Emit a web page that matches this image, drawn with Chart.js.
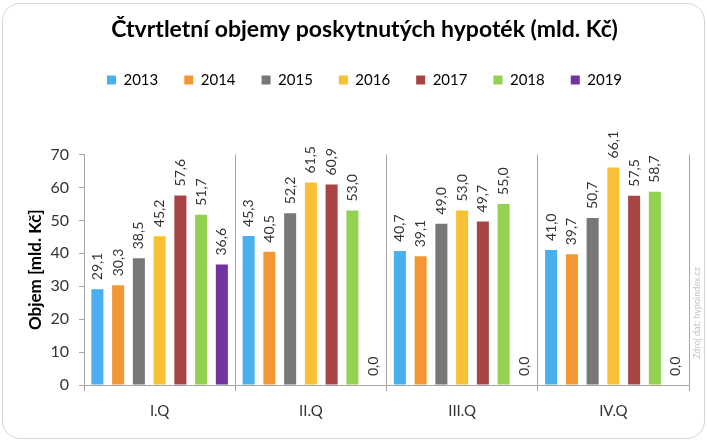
<!DOCTYPE html>
<html>
<head>
<meta charset="utf-8">
<script src="https://cdn.jsdelivr.net/npm/chart.js@4.4.0/dist/chart.umd.min.js"></script>
<style>
  html, body { margin: 0; padding: 0; background: #fff; }
  #wrap { position: relative; width: 707px; height: 445px; }
  #frame { position: absolute; left: 2px; top: 3px; right: 2px; bottom: 6px;
           border: 1px solid #d4d4d4; border-radius: 18px; }
  canvas { position: absolute; left: 0; top: 0; }
</style>
</head>
<body>
<div id="wrap">
  <div id="frame"></div>
  <canvas id="chart" width="707" height="445"></canvas>
</div>
<script>
const quarters = ['I.Q', 'II.Q', 'III.Q', 'IV.Q'];
const years = ['2013', '2014', '2015', '2016', '2017', '2018', '2019'];
const v2013 = [29.1, 45.3, 40.7, 41.0];
const v2014 = [30.3, 40.5, 39.1, 39.7];
const v2015 = [38.5, 52.2, 49.0, 50.7];
const v2016 = [45.2, 61.5, 53.0, 66.1];
const v2017 = [57.6, 60.9, 49.7, 57.5];
const v2018 = [51.7, 53.0, 55.0, 58.7];
const v2019 = [36.6, 0.0, 0.0, 0.0];
const colors = ['#48B0EE', '#F29733', '#787878', '#F7C133', '#A94444', '#93D152', '#7233A0'];

const FONT = 'Lato, "Open Sans", sans-serif';

const datasets = [v2013, v2014, v2015, v2016, v2017, v2018, v2019].map((vals, i) => ({
  label: years[i],
  data: vals,
  backgroundColor: colors[i],
  categoryPercentage: 0.96,
  barPercentage: 0.58
}));

// extra gap below legend
const legendGap = {
  id: 'legendGap',
  beforeInit(chart) {
    const fit = chart.legend.fit;
    chart.legend.fit = function () {
      fit.bind(chart.legend)();
      this.height += 57;
    };
  }
};

// rotated value labels above bars
const valueLabels = {
  id: 'valueLabels',
  afterDatasetsDraw(chart) {
    const ctx = chart.ctx;
    ctx.save();
    ctx.font = '14px ' + FONT;
    ctx.fillStyle = '#333';
    ctx.textAlign = 'left';
    ctx.textBaseline = 'middle';
    chart.data.datasets.forEach((ds, i) => {
      chart.getDatasetMeta(i).data.forEach((bar, j) => {
        const txt = ds.data[j].toFixed(1).replace('.', ',');
        ctx.save();
        ctx.translate(bar.x, bar.y - 9);
        ctx.rotate(-Math.PI / 2);
        ctx.fillText(txt, 0, 0);
        ctx.restore();
      });
    });
    ctx.restore();
  }
};

// source note on the right edge
const sourceNote = {
  id: 'sourceNote',
  afterDraw(chart) {
    const ctx = chart.ctx;
    ctx.save();
    ctx.translate(697, 313);
    ctx.rotate(-Math.PI / 2);
    ctx.font = '9px ' + FONT;
    ctx.fillStyle = '#c4c4c4';
    ctx.textAlign = 'center';
    ctx.textBaseline = 'middle';
    ctx.fillText('Zdroj dat: hypoindex.cz', 0, 0);
    ctx.restore();
  }
};

new Chart(document.getElementById('chart'), {
  type: 'bar',
  data: { labels: quarters, datasets: datasets },
  options: {
    responsive: false,
    animation: false,
    layout: { padding: { left: 40, right: 18, top: 0, bottom: 14 } },
    plugins: {
      title: {
        display: true,
        text: 'Čtvrtletní objemy poskytnutých hypoték (mld. Kč)',
        color: '#000',
        font: { family: FONT, size: 23, weight: 'bold' },
        padding: { top: 16, bottom: 3 }
      },
      legend: {
        labels: {
          boxWidth: 9,
          boxHeight: 9,
          padding: 26,
          color: '#000',
          font: { family: FONT, size: 15 }
        }
      },
      tooltip: { enabled: false }
    },
    scales: {
      x: {
        grid: { color: '#a6a6a6', tickLength: 6, offset: true },
        border: { color: '#a6a6a6' },
        ticks: { color: '#333', padding: 11, font: { family: FONT, size: 15 } }
      },
      y: {
        min: 0,
        max: 70,
        ticks: { stepSize: 10, color: '#333', padding: 10, font: { family: FONT, size: 16 } },
        grid: { drawOnChartArea: false, tickLength: 5, color: '#a6a6a6' },
        border: { color: '#a6a6a6' },
        title: {
          display: true,
          text: 'Objem [mld. Kč]',
          color: '#000',
          font: { family: FONT, size: 17, weight: 'bold' },
          padding: { top: -15, bottom: 0 }
        },
        afterFit(scale) { scale.width = 44; }
      }
    }
  },
  plugins: [legendGap, valueLabels, sourceNote]
});
</script>
</body>
</html>
